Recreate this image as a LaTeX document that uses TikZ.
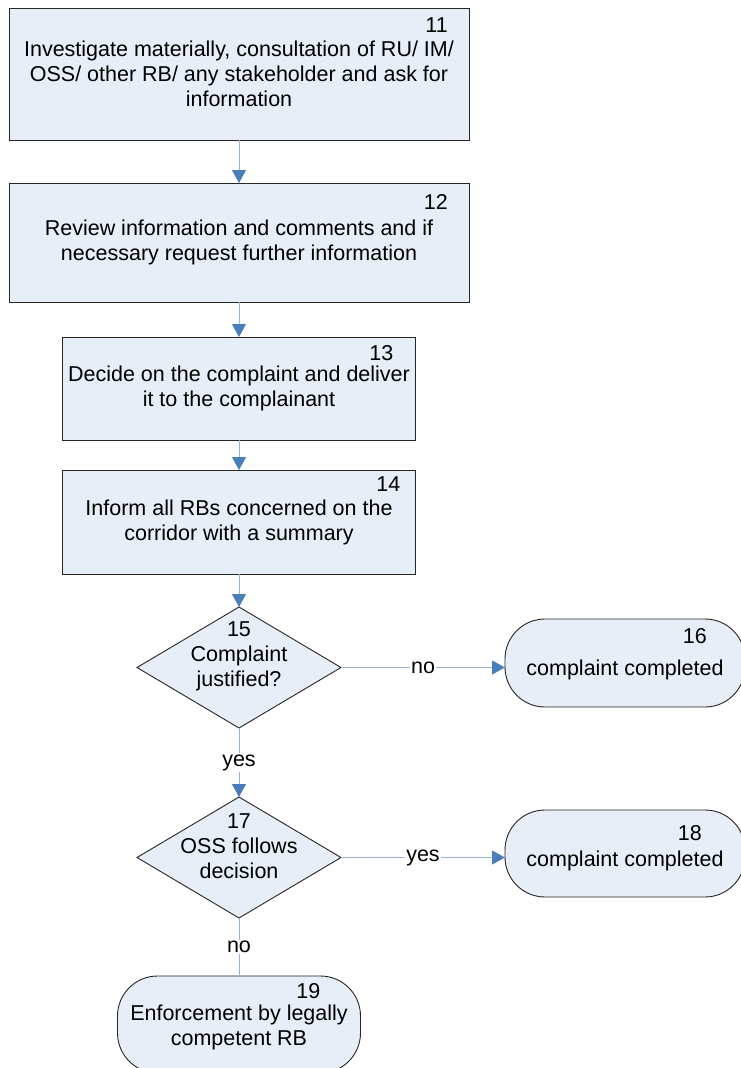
\documentclass[tikz,border=0pt]{standalone}
\usepackage{fontspec}
\setmainfont{Liberation Sans}
\usetikzlibrary{arrows.meta,positioning,shapes.geometric}
\definecolor{boxfill}{HTML}{E8EEF7}
\definecolor{edgegray}{HTML}{262626}
\definecolor{linkline}{HTML}{95B3D7}
\definecolor{linkhead}{HTML}{4A7EBB}

\begin{document}
\begin{tikzpicture}[x=1pt,y=1pt,font=\fontsize{21.5pt}{25pt}\selectfont,
  >={Triangle[length=13pt,width=14pt,color=linkhead]},
  proc/.style={draw=edgegray,line width=0.9pt,fill=boxfill,align=center,inner sep=0pt,outer sep=0pt},
  term/.style={proc,rounded corners=40pt},
  decision/.style={draw=edgegray,line width=0.9pt,fill=boxfill,diamond,inner sep=0pt,outer sep=0pt},
  num/.style={anchor=north east,inner sep=0pt},
  dtext/.style={align=center,inner sep=0pt,yshift=11pt},
  link/.style={draw=linkline,line width=1pt},
  ans/.style={midway,fill=white,inner sep=1pt}]
  \useasboundingbox (0,0) rectangle (741,-1068);
  % process steps
  \node[proc,minimum width=460pt,minimum height=132pt,
    label={[num,shift={(-21pt,-10pt)}]north east:11}] (s11) at (239,-74)
    {Investigate materially, consultation of RU/ IM/\\ OSS/ other RB/ any stakeholder and ask for\\ information};
  \node[proc,minimum width=460pt,minimum height=119pt,below=43pt of s11,
    label={[num,shift={(-21pt,-11pt)}]north east:12}] (s12)
    {Review information and comments and if\\ necessary request further information};
  \node[proc,minimum width=353pt,minimum height=103pt,below=35pt of s12,
    label={[num,shift={(-22pt,-8pt)}]north east:13}] (s13)
    {Decide on the complaint and deliver\\ it to the complainant};
  \node[proc,minimum width=353pt,minimum height=104pt,below=30pt of s13,
    label={[num,shift={(-15pt,-7pt)}]north east:14}] (s14)
    {Inform all RBs concerned on the\\ corridor with a summary};
  % decisions
  \node[decision,minimum width=204pt,minimum height=121pt,below=33pt of s14,
    label={[dtext]center:{15\\ Complaint\\ justified?}}] (d15) {};
  \node[decision,minimum width=204pt,minimum height=121pt,below=69pt of d15,
    label={[dtext]center:{17\\ OSS follows\\ decision}}] (d17) {};
  % end points
  \node[term,minimum width=240pt,minimum height=88pt,right=164pt of d15.east,anchor=west,yshift=4.5pt,
    label={[num,shift={(-38pt,-9pt)}]north east:16}] (t16)
    {\raisebox{-7pt}[\height][\depth]{complaint completed}};
  \node[term,minimum width=240pt,minimum height=87pt,right=164pt of d17.east,anchor=west,yshift=4pt,
    label={[num,shift={(-43pt,-15pt)}]north east:18}] (t18)
    {\raisebox{-7pt}[\height][\depth]{complaint completed}};
  \node[term,minimum width=243pt,minimum height=97pt,below=58pt of d17,
    label={[num,shift={(-40pt,-7pt)}]north east:19}] (t19)
    {\raisebox{-3pt}[\height][\depth]{\begin{tabular}{@{}c@{}}Enforcement by legally\\ competent RB\end{tabular}}};
  % connectors
  \draw[link,->] (s11) -- (s12);
  \draw[link,->] (s12) -- (s13);
  \draw[link,->] (s13) -- (s14);
  \draw[link,->] (s14) -- (d15);
  \draw[link,->] (d15.east) -- node[ans] {no} (d15.east -| t16.west);
  \draw[link,->] (d15) -- node[ans] {yes} (d17);
  \draw[link,->] (d17.east) -- node[ans] {yes} (d17.east -| t18.west);
  \draw[link] (d17) -- node[ans] {no} (t19);
\end{tikzpicture}
\end{document}
